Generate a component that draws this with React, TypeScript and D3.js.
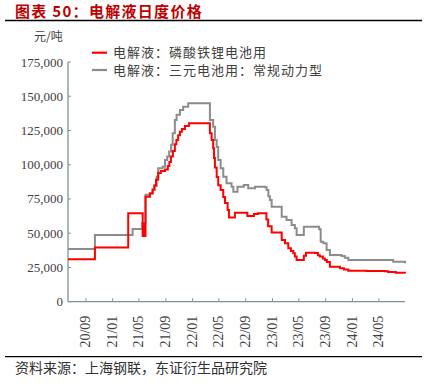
import React from "react";
import * as d3 from "d3";

const yTicks = [0, 25000, 50000, 75000, 100000, 125000, 150000, 175000];
const xTickLabels = ["20/09", "21/01", "21/05", "21/09", "22/01", "22/05", "22/09", "23/01", "23/05", "23/09", "24/01", "24/05"];

const lfpDates = [
  "2020-06-11", "2020-10-12", "2021-03-13", "2021-05-18", "2021-05-24", "2021-05-27", "2021-05-31",
  "2021-06-05", "2021-06-20", "2021-07-02", "2021-07-11", "2021-07-18", "2021-07-28", "2021-08-09",
  "2021-08-28", "2021-09-10", "2021-09-17", "2021-09-24", "2021-10-03", "2021-10-12", "2021-10-19",
  "2021-10-27", "2021-11-04", "2021-11-13", "2021-11-27", "2021-12-15", "2022-03-13", "2022-03-21",
  "2022-03-29", "2022-04-05", "2022-04-09", "2022-04-13", "2022-04-21", "2022-04-28", "2022-05-09",
  "2022-05-21", "2022-05-29", "2022-06-10", "2022-06-16", "2022-07-13", "2022-09-08", "2022-10-08",
  "2022-10-26", "2022-12-04", "2022-12-12", "2022-12-28", "2023-02-04", "2023-02-12", "2023-02-27",
  "2023-03-14", "2023-03-26", "2023-04-06", "2023-04-13", "2023-04-21", "2023-05-15", "2023-05-24",
  "2023-06-03", "2023-07-14", "2023-07-27", "2023-08-05", "2023-08-19", "2023-08-28", "2023-09-06",
  "2023-09-20", "2023-11-05", "2023-11-23", "2023-12-13", "2024-03-06", "2024-05-28", "2024-06-12",
  "2024-07-17", "2024-08-28"
];
const lfpValues = [
  31000, 39500, 64500, 48000, 57000, 48000, 76700,
  76700, 79000, 82000, 85000, 89000, 94000, 95500,
  96500, 99000, 102000, 106000, 110000, 115000, 118000,
  121500, 124000, 126000, 128300, 130300, 130300, 123000,
  118000, 112000, 105000, 98000, 91000, 85000, 81500,
  76500, 72000, 67000, 61500, 65000, 62500, 64000,
  64600, 60000, 55000, 50500, 50500, 45000, 42700,
  39000, 37000, 35400, 33000, 30500, 30500, 33500,
  35800, 35500, 34000, 33000, 31500, 30500, 29000,
  25500, 24400, 23500, 22600, 22400, 22200, 21700,
  21200, 20700
];

const nmcDates = [
  "2020-06-11", "2020-10-12", "2021-04-02", "2021-05-16", "2021-05-31", "2021-06-20", "2021-07-03",
  "2021-07-10", "2021-07-21", "2021-07-28", "2021-08-17", "2021-08-28", "2021-09-07", "2021-09-16",
  "2021-09-25", "2021-10-02", "2021-10-12", "2021-10-20", "2021-11-04", "2021-11-19", "2021-12-12",
  "2022-03-13", "2022-03-21", "2022-04-05", "2022-04-13", "2022-04-21", "2022-04-28", "2022-05-09",
  "2022-05-21", "2022-06-05", "2022-06-28", "2022-07-06", "2022-07-25", "2022-08-23", "2022-09-12",
  "2022-10-13", "2022-11-27", "2022-12-05", "2022-12-13", "2022-12-20", "2022-12-28", "2023-02-12",
  "2023-03-06", "2023-03-29", "2023-04-13", "2023-04-21", "2023-05-14", "2023-05-24", "2023-07-14",
  "2023-08-02", "2023-08-09", "2023-08-21", "2023-09-05", "2023-09-20", "2023-11-12", "2023-11-27",
  "2023-12-13", "2024-06-05", "2024-07-05", "2024-08-28"
];
const nmcValues = [
  38500, 48700, 53100, 57500, 78000, 79200, 81600,
  84500, 91300, 97400, 98600, 103500, 106000, 109600,
  114500, 123000, 132700, 136400, 140000, 142400, 144900,
  144900, 132700, 127800, 118000, 113000, 103500, 97400,
  91300, 86500, 84000, 80300, 84000, 85200, 82800,
  84000, 83600, 81600, 77000, 74300, 69400, 62000,
  59700, 56000, 53600, 48700, 48700, 54800, 54800,
  52900, 43800, 42700, 37800, 34100, 33400, 32000,
  30500, 30500, 29200, 28000
];

const seriesNames = ["电解液：磷酸铁锂电池用", "电解液：三元电池用：常规动力型"];
const seriesColors = ["#ff0000", "#8c8c8c"];

const xDomainStart = "2020-06-11";
const xDomainEnd = "2024-08-28";

const parse = d3.timeParse("%Y-%m-%d");
const tickDate = d3.timeParse("%y/%m");

export default function App() {
  const W = 431, H = 390;
  const left = 68, right = 405, top = 62, bottom = 301.7;
  const x = d3.scaleTime().domain([parse(xDomainStart)!, parse(xDomainEnd)!]).range([left, right]);
  const y = d3.scaleLinear().domain([0, 175000]).range([bottom, top]);
  const line = d3
    .line<[Date, number]>()
    .x((d) => x(d[0]))
    .y((d) => y(d[1]))
    .curve(d3.curveStepAfter);
  const lfp: [Date, number][] = lfpDates.map((d, i) => [parse(d)!, lfpValues[i]]);
  const nmc: [Date, number][] = nmcDates.map((d, i) => [parse(d)!, nmcValues[i]]);
  const axisColor = "#7d9494";
  const serif = "'Liberation Serif', 'DejaVu Serif', serif";
  const cjk = "'Noto Sans CJK SC', sans-serif";
  const fmt = d3.format(",");
  return (
    <svg width={W} height={H} style={{ position: "absolute", left: 0, top: 0, background: "#fff" }}>
      <text x={15} y={17.4} fontFamily={cjk} fontWeight="bold" fontSize={15} letterSpacing={1.3} fill="#c00000">
        图表 50：电解液日度价格
      </text>
      <line x1={5} x2={422} y1={20.5} y2={20.5} stroke="#000" strokeWidth={1.3} />
      <text x={34} y={41} fontFamily={cjk} fontSize={12} fill="#404040">元/吨</text>
      {yTicks.map((t) => (
        <g key={t}>
          <text x={63} y={y(t) + 4.5} textAnchor="end" fontFamily={serif} fontSize={13} fill="#404040">
            {fmt(t)}
          </text>
          <line x1={left} x2={left + 3} y1={y(t)} y2={y(t)} stroke={axisColor} strokeWidth={1} />
        </g>
      ))}
      <line x1={left} x2={left} y1={top} y2={bottom} stroke={axisColor} strokeWidth={1.3} />
      <line x1={left} x2={right} y1={bottom} y2={bottom} stroke={axisColor} strokeWidth={1.3} />
      {xTickLabels.map((lbl) => {
        const xx = x(tickDate(lbl)!);
        return (
          <g key={lbl}>
            <line x1={xx} x2={xx} y1={bottom} y2={bottom - 3.5} stroke={axisColor} strokeWidth={1} />
            <text
              transform={`translate(${xx + 4.5},${bottom + 14}) rotate(-90)`}
              textAnchor="end"
              fontFamily={serif}
              fontSize={14}
              fill="#404040"
            >
              {lbl}
            </text>
          </g>
        );
      })}
      <path d={line(nmc) || ""} fill="none" stroke={seriesColors[1]} strokeWidth={2} />
      <path d={line(lfp) || ""} fill="none" stroke={seriesColors[0]} strokeWidth={2} />
      {seriesNames.map((n, i) => (
        <g key={n}>
          <line x1={92} x2={107} y1={52.7 + i * 17.3} y2={52.7 + i * 17.3} stroke={seriesColors[i]} strokeWidth={2.2} />
          <text x={113} y={52.7 + i * 17.3 + 4.5} fontFamily={cjk} fontSize={13} letterSpacing={1} fill="#404040">
            {n}
          </text>
        </g>
      ))}
      <line x1={5} x2={422} y1={356.7} y2={356.7} stroke="#000" strokeWidth={1.3} />
      <text x={15} y={373} fontFamily={cjk} fontSize={14} fill="#303030">
        资料来源：上海钢联，东证衍生品研究院
      </text>
    </svg>
  );
}
